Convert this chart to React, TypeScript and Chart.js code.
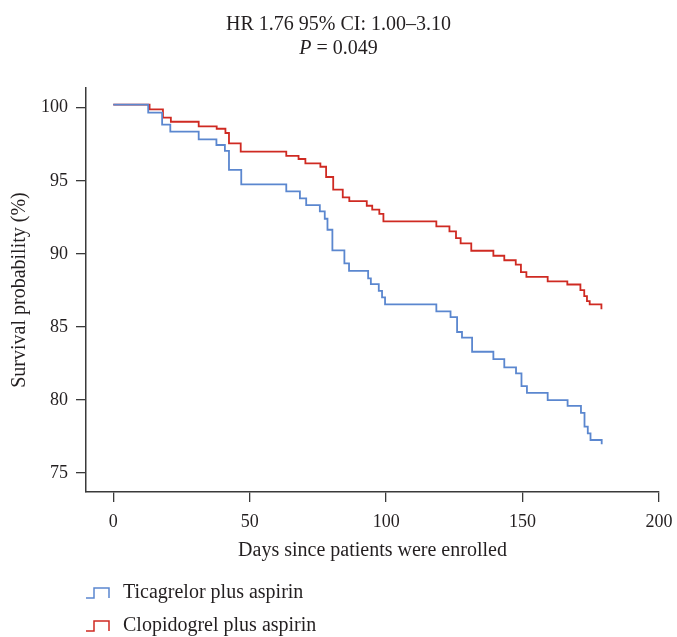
import React, { useEffect, useRef } from "react";
import { Chart, registerables } from "chart.js";

Chart.register(...registerables);

// ---- data ----
const ticagrelorDays = [0, 12.8, 17.9, 20.9, 31.3, 37.8, 40.9, 42.4, 46.9, 63.4, 68.4, 70.7, 75.7, 77.5, 78.5, 80.3, 84.7, 86.4, 93.4, 94.4, 97.3, 98.5, 99.6, 118.4, 123.6, 126.0, 127.8, 131.5, 139.3, 143.3, 147.6, 149.6, 151.6, 159.2, 166.5, 171.4, 172.7, 173.9, 174.9, 179.0];
const ticagrelorSurvival = [100.21, 99.66, 98.84, 98.36, 97.84, 97.45, 97.04, 95.74, 94.76, 94.28, 93.8, 93.34, 92.91, 92.4, 91.65, 90.24, 89.35, 88.84, 88.32, 87.93, 87.47, 87.02, 86.54, 86.06, 85.67, 84.65, 84.26, 83.3, 82.8, 82.23, 81.82, 80.95, 80.49, 79.99, 79.6, 79.12, 78.17, 77.71, 77.26, 76.96];

const clopidogrelDays = [0, 13.3, 18.2, 21.1, 31.3, 37.9, 41.1, 42.4, 46.7, 63.4, 67.9, 70.4, 75.9, 78.0, 80.6, 84.1, 86.5, 92.9, 94.9, 97.5, 99.0, 118.4, 123.2, 125.6, 127.3, 131.2, 139.3, 143.3, 147.5, 149.4, 151.4, 159.2, 166.4, 171.2, 172.6, 173.6, 174.6, 178.9];
const clopidogrelSurvival = [100.21, 99.89, 99.32, 99.04, 98.73, 98.56, 98.27, 97.56, 96.99, 96.71, 96.49, 96.19, 95.96, 95.26, 94.39, 93.87, 93.61, 93.29, 93.02, 92.74, 92.22, 91.88, 91.54, 91.08, 90.72, 90.21, 89.87, 89.56, 89.26, 88.75, 88.43, 88.12, 87.9, 87.52, 87.11, 86.77, 86.54, 86.21];

const seriesLabels = ["Ticagrelor plus aspirin", "Clopidogrel plus aspirin"];
const xTicks = [0, 50, 100, 150, 200];
const yTicks = [75, 80, 85, 90, 95, 100];
const titleLine1 = "HR 1.76 95% CI: 1.00\u20133.10";
const pLabel = "P";
const pValueText = " = 0.049";
const xTitle = "Days since patients were enrolled";
const yTitle = "Survival probability (%)";

// ---- styles ----
const FONT = "'Liberation Serif', 'DejaVu Serif', serif";
const TEXT = "#231f20";
const AXIS = "#3a3a3a";
const BLUE = "#5b87cf";
const RED = "#cf2a22";
const W = 677;
const H = 637;
const TXT_SIZE = 20;

const textPlugin = {
  id: "kmText",
  afterDraw(chart: any) {
    const ctx = chart.ctx;
    ctx.save();
    ctx.fillStyle = TEXT;
    ctx.textBaseline = "middle";
    ctx.textAlign = "left";
    const cx = chart.width / 2;
    const norm = `${TXT_SIZE}px ${FONT}`;
    const ital = `italic ${TXT_SIZE}px ${FONT}`;
    ctx.font = norm;
    const w1 = ctx.measureText(titleLine1).width;
    ctx.fillText(titleLine1, cx - w1 / 2, 25);
    ctx.font = ital;
    const wp = ctx.measureText(pLabel).width;
    ctx.font = norm;
    const wr = ctx.measureText(pValueText).width;
    const x0 = cx - (wp + wr) / 2;
    ctx.font = ital;
    ctx.fillText(pLabel, x0, 49);
    ctx.font = norm;
    ctx.fillText(pValueText, x0 + wp, 49);

    ctx.font = norm;
    chart.data.datasets.forEach((ds: any, i: number) => {
      const y = 593 + i * 33;
      ctx.strokeStyle = ds.borderColor;
      ctx.lineWidth = 1.5;
      ctx.beginPath();
      ctx.moveTo(86, y + 5);
      ctx.lineTo(94, y + 5);
      ctx.lineTo(94, y - 5);
      ctx.lineTo(109, y - 5);
      ctx.lineTo(109, y + 5);
      ctx.stroke();
      ctx.fillText(ds.label, 123, y);
    });
    ctx.restore();
  },
};

export default function App() {
  const ref = useRef<HTMLCanvasElement | null>(null);
  useEffect(() => {
    if (!ref.current) return;
    const mk = (xs: number[], ys: number[]) => xs.map((x, i) => ({ x, y: ys[i] }));
    const chart = new Chart(ref.current, {
      type: "line",
      data: {
        datasets: [
          {
            label: seriesLabels[0],
            data: mk(ticagrelorDays, ticagrelorSurvival),
            borderColor: BLUE,
            backgroundColor: BLUE,
            borderWidth: 1.8,
            stepped: true,
            pointRadius: 0,
            fill: false,
          },
          {
            label: seriesLabels[1],
            data: mk(clopidogrelDays, clopidogrelSurvival),
            borderColor: RED,
            backgroundColor: RED,
            borderWidth: 1.8,
            stepped: true,
            pointRadius: 0,
            fill: false,
          },
        ],
      },
      options: {
        animation: false,
        responsive: true,
        maintainAspectRatio: false,
        layout: { padding: { top: 88, left: 0, right: 18, bottom: 70 } },
        plugins: {
          legend: { display: false },
          title: { display: false },
          tooltip: { enabled: false },
        },
        scales: {
          x: {
            type: "linear",
            min: -10,
            max: 200,
            afterBuildTicks: (s: any) => {
              s.ticks = xTicks.map((v) => ({ value: v }));
            },
            afterFit: (s: any) => {
              s.height = 75;
              s.paddingRight = 0;
              s.paddingLeft = 0;
            },
            grid: { drawOnChartArea: false, drawTicks: true, tickLength: 10, color: AXIS, lineWidth: 1.3 },
            border: { display: true, color: AXIS, width: 1.5 },
            ticks: { color: TEXT, font: { family: FONT, size: 18 }, padding: 9, maxRotation: 0 },
            title: { display: true, text: xTitle, color: TEXT, font: { family: FONT, size: TXT_SIZE }, padding: { top: 8 } },
          },
          y: {
            type: "linear",
            min: 73.7,
            max: 101.35,
            afterBuildTicks: (s: any) => {
              s.ticks = yTicks.map((v) => ({ value: v }));
            },
            afterFit: (s: any) => {
              s.width = 86;
            },
            grid: { drawOnChartArea: false, drawTicks: true, tickLength: 10, color: AXIS, lineWidth: 1.3 },
            border: { display: true, color: AXIS, width: 1.5 },
            ticks: { color: TEXT, font: { family: FONT, size: 18 }, padding: 8 },
            title: { display: true, text: yTitle, color: TEXT, font: { family: FONT, size: TXT_SIZE }, padding: { top: 8, bottom: 0 } },
          },
        },
      },
      plugins: [textPlugin],
    });
    return () => chart.destroy();
  }, []);
  return (
    <div style={{ position: "absolute", left: 0, top: 0, width: W, height: H, background: "#fff" }}>
      <canvas ref={ref} />
    </div>
  );
}
